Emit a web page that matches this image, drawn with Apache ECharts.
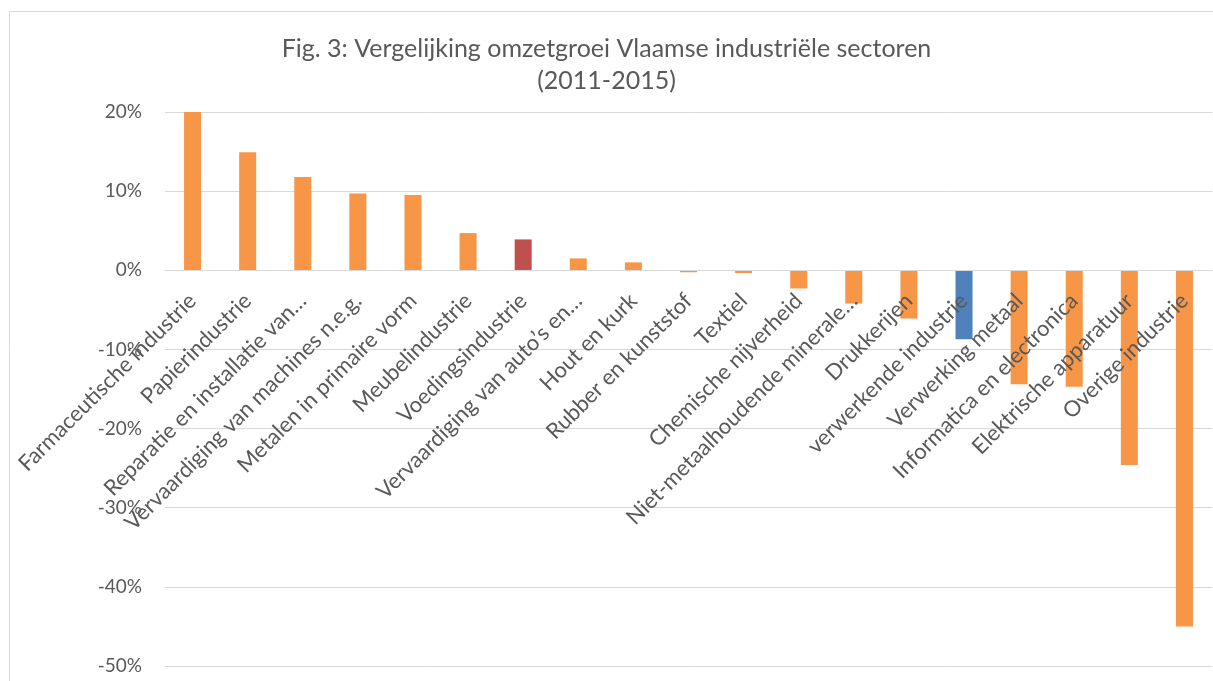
<!DOCTYPE html>
<html>
<head>
<meta charset="utf-8">
<script src="https://cdn.jsdelivr.net/npm/echarts@6/dist/echarts.min.js"></script>
<style>
html,body{margin:0;padding:0;background:#fff;}
#chart{width:1213px;height:681px;}
</style>
</head>
<body>
<div id="chart"></div>
<script>
const titleText = 'Fig. 3: Vergelijking omzetgroei Vlaamse industriële sectoren\n(2011-2015)';
const categories = [
  'Farmaceutische industrie',
  'Papierindustrie',
  'Reparatie en installatie van…',
  'Vervaardiging van machines n.e.g.',
  'Metalen in primaire vorm',
  'Meubelindustrie',
  'Voedingsindustrie',
  'Vervaardiging van auto’s en…',
  'Hout en kurk',
  'Rubber en kunststof',
  'Textiel',
  'Chemische nijverheid',
  'Niet-metaalhoudende minerale…',
  'Drukkerijen',
  'verwerkende industrie',
  'Verwerking metaal',
  'Informatica en electronica',
  'Elektrische apparatuur',
  'Overige industrie'
];
const growthPct = [20.1, 14.9, 11.8, 9.7, 9.5, 4.7, 3.9, 1.5, 1.0, -0.25, -0.35, -2.3, -4.2, -6.1, -8.7, -14.4, -14.7, -24.6, -45.0];
const yTicks = {min: -50, max: 20, interval: 10};

const defaultColor = '#F79646';
const highlightColors = {'Voedingsindustrie': '#C0504D', 'verwerkende industrie': '#4F81BD'};
const FONT = 'Lato';
const TXT = '#595959';

const W = 1213, H = 681;
const grid = {left: 165, right: 1, top: 112, bottom: 15};
const plotH = H - grid.top - grid.bottom;
// place the category axis on the zero line (labels included)
const zeroOffset = -plotH * (0 - yTicks.min) / (yTicks.max - yTicks.min);

const chart = echarts.init(document.getElementById('chart'));
chart.setOption({
  animation: false,
  backgroundColor: '#fff',
  graphic: [{
    type: 'rect', left: 7, top: 9, z: -10,
    shape: {width: 1250, height: 700},
    style: {fill: 'none', stroke: '#D9D9D9', lineWidth: 1}
  }],
  title: {
    text: titleText,
    left: 'center', top: 28,
    textStyle: {fontFamily: FONT, fontSize: 25, fontWeight: 'normal', color: TXT, lineHeight: 32}
  },
  grid: Object.assign({containLabel: false, outerBoundsMode: 'none'}, grid),
  xAxis: {
    type: 'category',
    data: categories,
    position: 'bottom',
    offset: zeroOffset,
    z: 10,
    axisLine: {onZero: false, lineStyle: {color: '#D9D9D9', width: 1}},
    axisTick: {show: false},
    axisLabel: {rotate: 45, interval: 0, margin: 27, fontFamily: FONT, fontSize: 22, color: TXT}
  },
  yAxis: {
    type: 'value',
    min: yTicks.min, max: yTicks.max, interval: yTicks.interval,
    axisLine: {show: false},
    axisTick: {show: false},
    splitLine: {lineStyle: {color: '#D9D9D9', width: 1}},
    axisLabel: {formatter: '{value}%', margin: 23, fontFamily: FONT, fontSize: 19, color: TXT}
  },
  series: [{
    type: 'bar',
    data: growthPct,
    barWidth: 17,
    z: 2,
    itemStyle: {
      color: p => highlightColors[categories[p.dataIndex]] || defaultColor
    }
  }]
});
</script>
</body>
</html>
